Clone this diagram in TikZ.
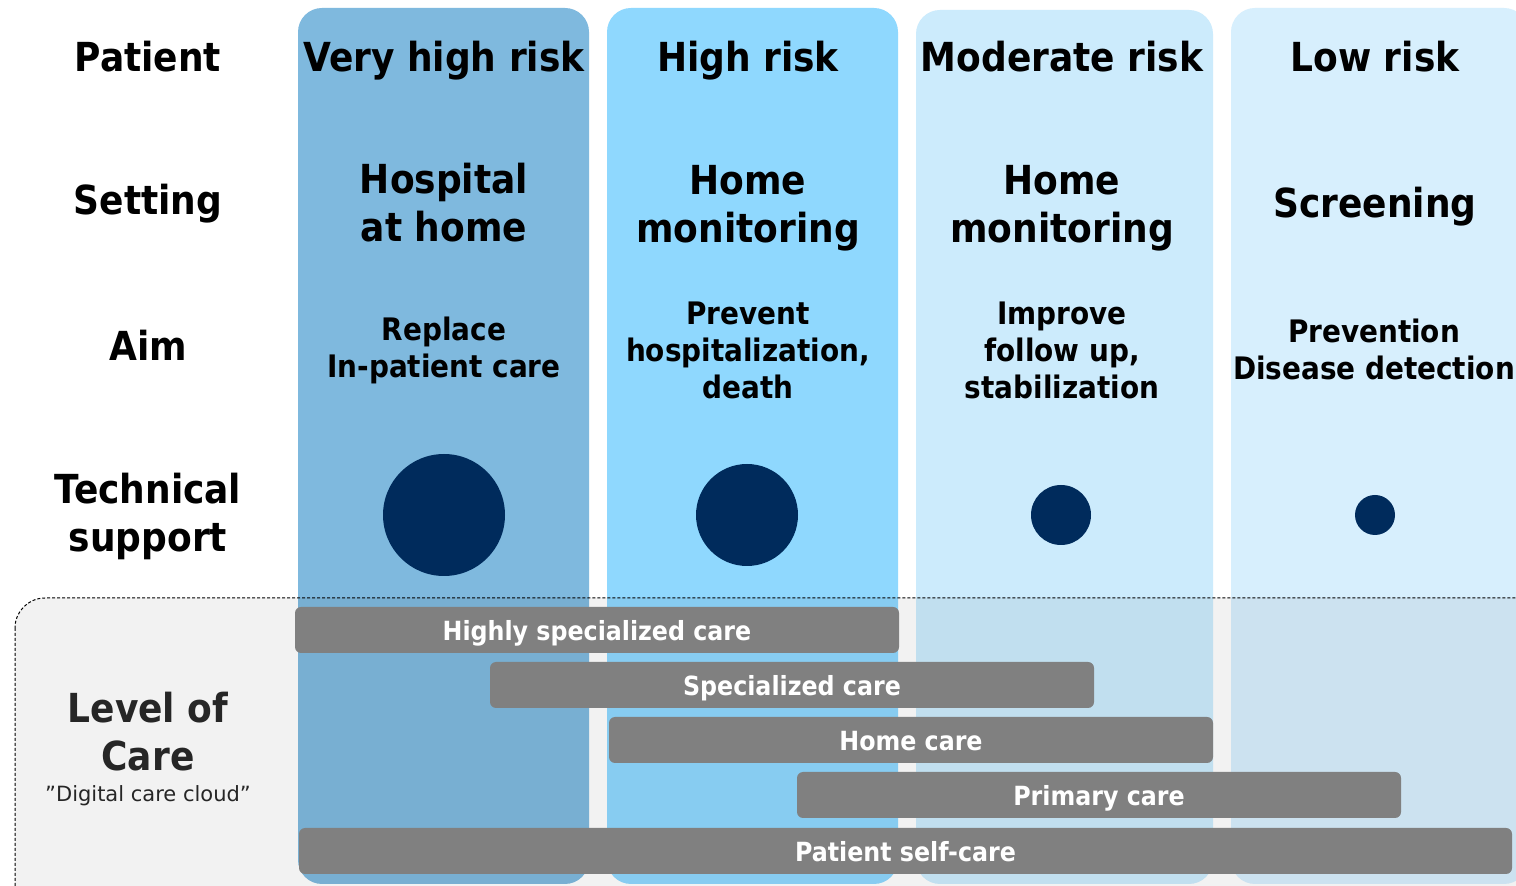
\documentclass[tikz,border=0pt]{standalone}
\usepackage{fontspec}
\setmainfont{DejaVu Sans}
\setsansfont{DejaVu Sans}
\newfontfamily\narrowsf{DejaVu Sans Condensed}
\usetikzlibrary{positioning}

\definecolor{vhighc}{HTML}{7FB9DE}
\definecolor{highc}{HTML}{8FD8FE}
\definecolor{modc}{HTML}{CCEBFC}
\definecolor{lowc}{HTML}{D7EFFD}
\definecolor{navy}{HTML}{002B5C}
\definecolor{barg}{HTML}{808080}

\begin{document}
\begin{tikzpicture}[
  x=0.5pt, y=-0.5pt,
  font=\sffamily,
  head/.style={font=\narrowsf\bfseries\fontsize{20}{24}\selectfont, align=center},
  aimtxt/.style={font=\narrowsf\bfseries\fontsize{15.5}{18.5}\selectfont, align=center},
  col/.style={rounded corners=12pt, minimum width=145.5pt, minimum height=438pt, inner sep=0pt},
  dot/.style={circle, fill=navy, inner sep=0pt},
  bar/.style={fill=barg, rounded corners=3pt, minimum width=302pt, minimum height=23pt,
    inner sep=0pt, text height=10.6pt, text depth=0pt, text=white,
    font=\narrowsf\bfseries\fontsize{13.2}{15}\selectfont}
]
\clip (0,0) rectangle (1516,886);
\fill[white] (0,0) rectangle (1516,886);

% risk columns
\node[col, fill=vhighc] (c1) at (443.5,446) {};
\node[col, fill=highc] (c2) at (752.5,446) {};
\node[col, fill=modc, minimum width=148.5pt, minimum height=437pt] (c3) at (1064.5,447) {};
\node[col, fill=lowc, minimum width=148.5pt] (c4) at (1379.5,446) {};

% level of care area
\filldraw[fill=black, fill opacity=0.05, draw=black, line width=0.5pt,
  dash pattern=on 1.5pt off 1pt, rounded corners=15pt]
  (15,598) rectangle (1560,930);

% row headers
\node[head, anchor=base] (pat) at (148,72) {Patient};
\node[head, anchor=base] (set) at (148,215) {Setting};
\node[head, anchor=base] (aim) at (148,361) {Aim};
\node[head] (tech) at (148,516) {Technical\\support};
\node[head, text=black!85] (loc) at (148,732) {Level of\\Care};
\node[font=\sffamily\fontsize{10.5}{13}\selectfont, text=black!85, below=0pt of loc] (cloud)
  {”Digital care cloud”};

% column titles
\node[head, anchor=base] (t1) at (444,72) {Very high risk};
\node[head, anchor=base] (t2) at (748,72) {High risk};
\node[head, anchor=base] (t3) at (1062,72) {Moderate risk};
\node[head, anchor=base] (t4) at (1375,72) {Low risk};

% settings
\node[head] (s1) at (444,203) {Hospital\\at home};
\node[head] (s2) at (748,208) {Home\\monitoring};
\node[head] (s3) at (1062,208) {Home\\monitoring};
\node[head, anchor=base] (s4) at (1375,218) {Screening};

% aims
\node[aimtxt] (a1) at (444,350) {Replace\\In-patient care};
\node[aimtxt] (a2) at (748,350) {Prevent\\hospitalization,\\death};
\node[aimtxt] (a3) at (1062,350) {Improve\\follow up,\\stabilization};
\node[aimtxt] (a4) at (1374,349) {Prevention\\Disease detection};

% technical support
\node[dot, minimum size=61pt] (d1) at (444,515) {};
\node[dot, minimum size=51pt] (d2) at (747,515) {};
\node[dot, minimum size=30pt] (d3) at (1061,515) {};
\node[dot, minimum size=20pt] (d4) at (1375,515) {};

% care levels
\node[bar] (hsc) at (597,630) {Highly specialized care};
\node[bar] (sc) at (792,685) {Specialized care};
\node[bar] (hc) at (911,740) {Home care};
\node[bar] (pc) at (1099,795) {Primary care};
\node[bar, minimum width=606.5pt] (psc) at (905.5,851) {Patient self-care};

\end{tikzpicture}
\end{document}
